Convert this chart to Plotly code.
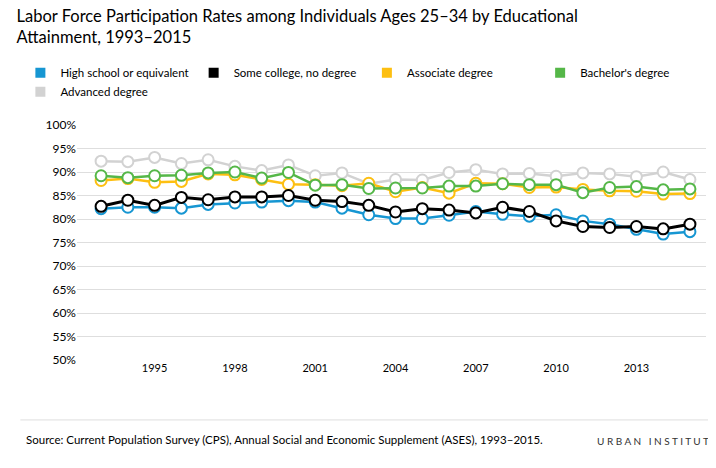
import plotly.graph_objects as go

years = list(range(1993, 2016))
high_school = [82.2, 82.5, 82.5, 82.3, 83.1, 83.4, 83.6, 83.9, 83.6, 82.3, 80.9, 80.1, 80.1, 80.8, 81.6, 81.0, 80.6, 80.9, 79.6, 78.9, 77.8, 76.8, 77.3]
some_college = [82.7, 84.0, 82.9, 84.6, 84.1, 84.7, 84.7, 85.0, 84.0, 83.7, 82.9, 81.5, 82.2, 81.9, 81.3, 82.5, 81.6, 79.6, 78.4, 78.2, 78.4, 77.9, 78.9]
associate = [88.2, 88.6, 87.8, 88.0, 89.6, 89.4, 88.4, 87.4, 87.3, 87.1, 87.6, 85.8, 86.7, 85.5, 87.6, 87.5, 86.7, 86.8, 86.3, 86.0, 85.9, 85.3, 85.4]
bachelor = [89.2, 88.8, 89.2, 89.3, 89.8, 90.0, 88.7, 89.9, 87.2, 87.3, 86.5, 86.6, 86.6, 87.0, 87.0, 87.5, 87.3, 87.3, 85.6, 86.7, 86.9, 86.2, 86.4]
advanced = [92.3, 92.2, 93.1, 91.8, 92.6, 91.2, 90.3, 91.5, 89.2, 89.8, 87.5, 88.4, 88.3, 89.9, 90.5, 89.6, 89.7, 89.1, 89.8, 89.6, 89.0, 90.0, 88.4]

series = [
    ("High school or equivalent", high_school, "#1696d2"),
    ("Some college, no degree", some_college, "#000000"),
    ("Associate degree", associate, "#fdbf11"),
    ("Bachelor's degree", bachelor, "#55b748"),
    ("Advanced degree", advanced, "#d2d2d2"),
]
draw_order = [4, 2, 3, 0, 1]

fig = go.Figure()
for i in draw_order:
    name, vals, col = series[i]
    fig.add_trace(go.Scatter(
        x=years, y=[v / 100 for v in vals], name=name, mode="lines+markers",
        line=dict(color=col, width=3 if i == 1 else 2.5),
        marker=dict(size=11, color="white", line=dict(color=col, width=2)),
        showlegend=False,
    ))
# legend entries: square swatches
for name, vals, col in series:
    fig.add_trace(go.Scatter(x=[None], y=[None], name=name, mode="markers",
                             marker=dict(symbol="square", size=10, color=col)))

fig.update_layout(
    width=716, height=468,
    paper_bgcolor="white", plot_bgcolor="white",
    font=dict(family="Lato, sans-serif", size=12, color="#000"),
    title=dict(text="Labor Force Participation Rates among Individuals Ages 25–34 by Educational<br>Attainment, 1993–2015",
               x=0.012, y=0.97, xanchor="left", yanchor="top", font=dict(size=16.5)),
    margin=dict(l=62, r=18, t=117, b=116),
    showlegend=True,
    legend=dict(orientation="h", x=-0.09, y=1.08, xanchor="left", yanchor="bottom",
                font=dict(size=11.5), itemwidth=30, traceorder="normal",
                entrywidth=0, tracegroupgap=0),
    xaxis=dict(tickvals=[1995, 1998, 2001, 2004, 2007, 2010, 2013], range=[1992.1, 2015.6],
               showgrid=False, showline=False, zeroline=False, ticks="", tickfont=dict(size=11)),
    yaxis=dict(range=[0.5, 1.0], dtick=0.05, tickformat=".0%", gridcolor="#dedede",
               zeroline=False, ticks="", tickfont=dict(size=12)),
)
fig.add_annotation(text="Source: Current Population Survey (CPS), Annual Social and Economic Supplement (ASES), 1993–2015.",
                   xref="paper", yref="paper", x=-0.085, y=-0.3, xanchor="left", yanchor="top",
                   showarrow=False, font=dict(size=11.5))
fig.add_annotation(text="U R B A N  &nbsp;I N S T I T U T E", xref="paper", yref="paper", x=1.02, y=-0.31,
                   xanchor="right", yanchor="top", showarrow=False, font=dict(size=10, color="#333"))
fig.add_shape(type="line", xref="paper", yref="paper", x0=-0.09, x1=1.03, y0=-0.255, y1=-0.255,
              line=dict(color="#dedede", width=1))

fig.write_html("out.html")
